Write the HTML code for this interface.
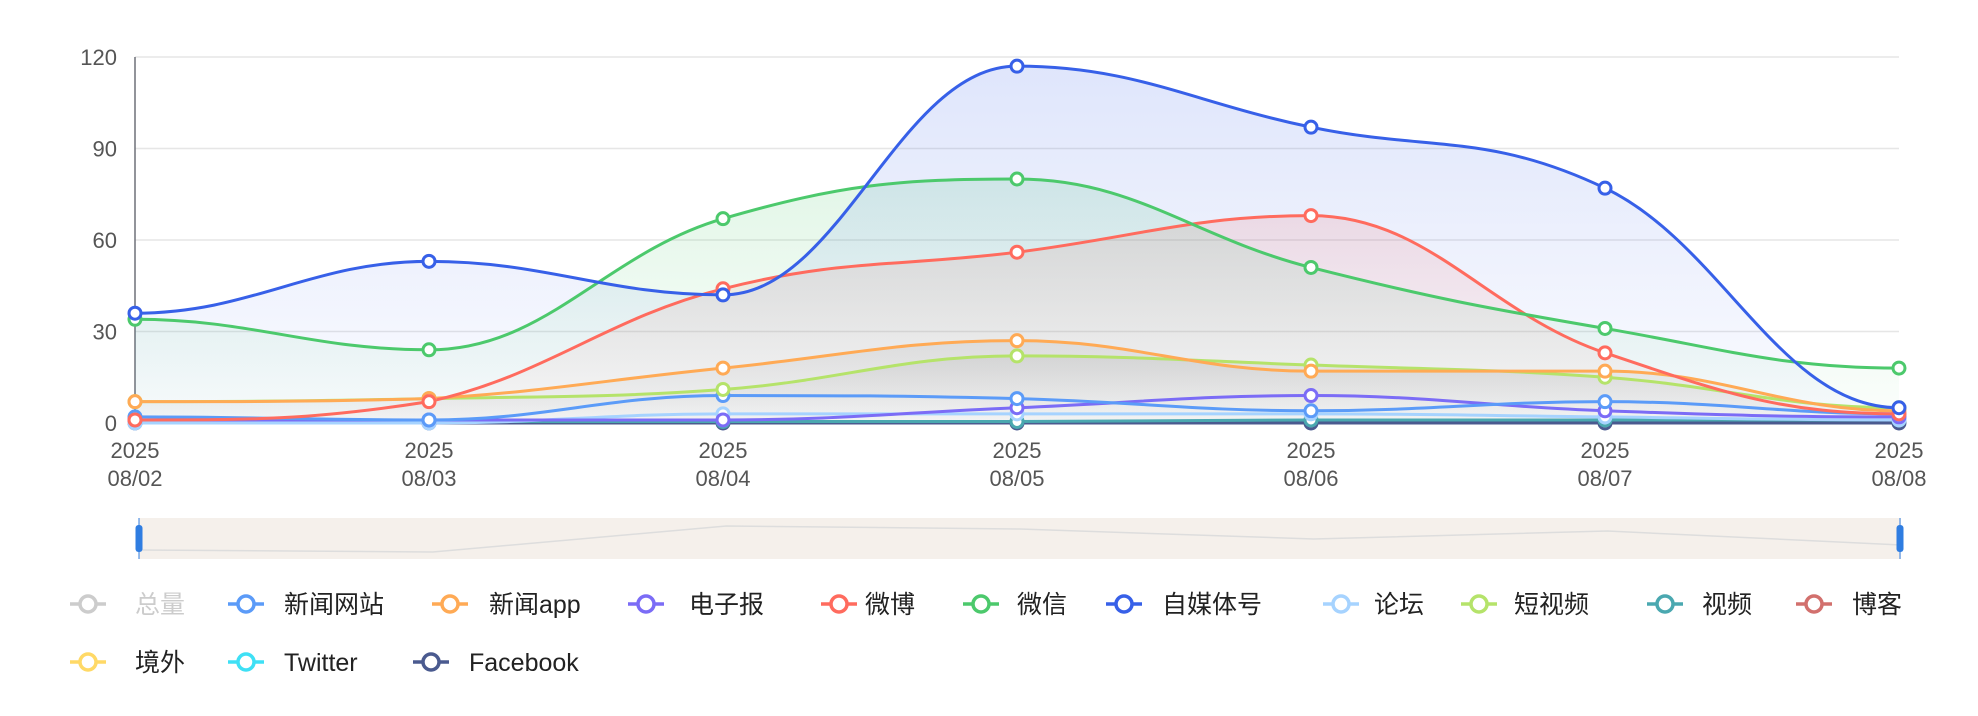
<!DOCTYPE html>
<html><head><meta charset="utf-8"><style>
html,body{margin:0;padding:0;background:#fff;}
svg{display:block;}
text{font-family:"Liberation Sans","Noto Sans CJK SC",sans-serif;}
</style></head><body>
<svg id="c" width="1978" height="716" viewBox="0 0 1978 716" xmlns="http://www.w3.org/2000/svg"></svg>
<script>
const S=document.getElementById('c');
let h='';
const X0=135,DX=294,Y0=423,K=366/120;
const xs=i=>X0+DX*i, ys=v=>Y0-v*K;
h+='<defs>';
const fills={b:'#3760e8',g:'#4cc96c',r:'#ff6b5e',o:'#999999'};
for(const k in fills){h+=`<linearGradient id="g${k}" x1="0" y1="0" x2="0" y2="1"><stop offset="0" stop-color="${fills[k]}" stop-opacity="0.16"/><stop offset="1" stop-color="${fills[k]}" stop-opacity="0.02"/></linearGradient>`;}
h+='</defs>';
[0,30,60,90,120].forEach(v=>{const y=ys(v);h+=`<line x1="${X0}" x2="1899" y1="${y}" y2="${y}" stroke="#e6e6e6" stroke-width="1.5"/>`;h+=`<text x="117" y="${y+8}" font-size="22" fill="#555" text-anchor="end">${v}</text>`;});
h+=`<line x1="${X0}" x2="${X0}" y1="${ys(120)}" y2="${Y0}" stroke="#6e7079" stroke-width="1.5"/>`;
for(let i=0;i<7;i++){h+=`<text x="${xs(i)}" y="458" font-size="22" fill="#555" text-anchor="middle">2025</text><text x="${xs(i)}" y="486" font-size="22" fill="#555" text-anchor="middle">08/0${i+2}</text>`;}
function path(d){
 const p=d.map((v,i)=>[xs(i),ys(v)]);const n=p.length;
 const t=p.map((q,i)=>{
  if(i==0||i==n-1)return 0;
  const a=p[i-1][1],c=p[i+1][1],b=q[1];
  if((b-a)*(b-c)>=0)return 0;
  return (c-a)/(2*DX);
 });
 let s=`M${p[0][0]},${p[0][1]}`;
 for(let i=0;i<n-1;i++){
  const b=p[i],c=p[i+1],dx=DX*0.4;
  let y1=b[1]+t[i]*dx,y2=c[1]-t[i+1]*dx;
  const lo=Math.min(b[1],c[1]),hi=Math.max(b[1],c[1]);
  y1=Math.max(lo,Math.min(hi,y1));y2=Math.max(lo,Math.min(hi,y2));
  s+=` C${b[0]+dx},${y1} ${c[0]-dx},${y2} ${c[0]},${c[1]}`;}
 return s;}
const series=[
 ['#4a5a8f',[0,0,0,0,0,0,0],null],
 ['#4aa8b0',[0.5,0.5,0.5,0.5,1,1,1],null],
 ['#a6d3ff',[0,0,3,3,3,2,1],null],
 ['#7b6cf6',[1,1,1,5,9,4,2],null],
 ['#5b9bf8',[2,1,9,8,4,7,3],null],
 ['#b5e36a',[7,8,11,22,19,15,5],'o'],
 ['#ffaa55',[7,8,18,27,17,17,4],'o'],
 ['#ff6b5e',[1,7,44,56,68,23,3],'r'],
 ['#4cc96c',[34,24,67,80,51,31,18],'g'],
 ['#3760e8',[36,53,42,117,97,77,5],'b'],
];
series.forEach(s=>{if(s[2]){h+=`<path d="${path(s[1])} L${xs(6)},${Y0} L${X0},${Y0}Z" fill="url(#g${s[2]})"/>`;}});
series.forEach(s=>{h+=`<path d="${path(s[1])}" fill="none" stroke="${s[0]}" stroke-width="3"/>`;});
series.forEach(s=>{s[1].forEach((v,i)=>{h+=`<circle cx="${xs(i)}" cy="${ys(v)}" r="6" fill="#fff" stroke="${s[0]}" stroke-width="3"/>`;});});
h+=`<rect x="139" y="518" width="1762" height="41" fill="#f5f0eb"/>`;
const sl=[32,34,8,11,21,13,27];
h+=`<polyline fill="none" stroke="#ddd" stroke-width="1.5" points="${sl.map((v,i)=>(139+i*293.67)+','+(518+v)).join(' ')}"/>`;
h+=`<line x1="139" x2="139" y1="518" y2="559" stroke="#2f7de1" stroke-width="1"/><rect x="135.5" y="525" width="7" height="27" rx="3" fill="#2f7de1"/>`;
h+=`<line x1="1900" x2="1900" y1="518" y2="559" stroke="#2f7de1" stroke-width="1"/><rect x="1896.5" y="525" width="7" height="27" rx="3" fill="#2f7de1"/>`;
const L=[['总量','#ccc',88,135,604,'#ccc'],['新闻网站','#5b9bf8',246,284,604],['新闻app','#ffaa55',450,489,604],['电子报','#7b6cf6',646,689,604],['微博','#ff6b5e',839,865,604],['微信','#4cc96c',981,1017,604],['自媒体号','#3760e8',1124,1162,604],['论坛','#a6d3ff',1341,1374,604],['短视频','#b5e36a',1479,1514,604],['视频','#4aa8b0',1665,1702,604],['博客','#d2706d',1814,1852,604],
['境外','#ffd966',88,135,662],['Twitter','#3ee0f5',246,284,662],['Facebook','#4a5a8f',431,469,662]];
L.forEach(l=>{h+=`<line x1="${l[2]-18}" x2="${l[2]+18}" y1="${l[4]}" y2="${l[4]}" stroke="${l[1]}" stroke-width="3.5"/><circle cx="${l[2]}" cy="${l[4]}" r="8" fill="#fff" stroke="${l[1]}" stroke-width="3.5"/><text x="${l[3]}" y="${l[4]+9}" font-size="25" fill="${l[5]||'#222'}">${l[0]}</text>`;});
S.innerHTML=h;
</script>
</body></html>
